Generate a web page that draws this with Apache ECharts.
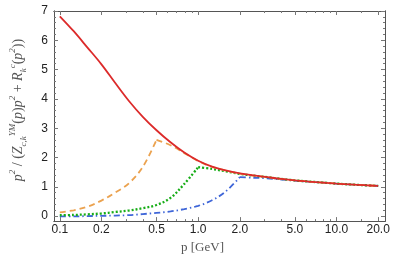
<!DOCTYPE html>
<html><head><meta charset="utf-8">
<script src="https://cdn.jsdelivr.net/npm/echarts@6/dist/echarts.min.js"></script>
<style>html,body{margin:0;padding:0;background:#fff}#c{width:394px;height:259px}</style>
</head><body><div id="c"></div>
<script>
// ---- data (p in GeV) ----
const pGrid = [0.1,0.126,0.158,0.2,0.251,0.316,0.398,0.5,0.631,0.794,1,1.26,1.58,2,2.51,3.16,3.98,5,6.31,7.94,10,12.6,15.8,20];
const redY    = [6.82,6.31,5.76,5.18,4.55,3.93,3.39,2.93,2.52,2.17,1.89,1.69,1.56,1.46,1.39,1.33,1.27,1.22,1.18,1.145,1.11,1.08,1.055,1.03];
const orangeY = [0.13,0.20,0.32,0.53,0.80,1.12,1.68,2.60,2.42,2.15,1.88,1.68,1.55,1.45,1.385,1.33,1.27,1.22,1.18,1.145,1.11,1.08,1.055,1.03];
const greenY  = [0.03,0.04,0.06,0.09,0.14,0.19,0.27,0.38,0.62,1.10,1.67,1.61,1.53,1.44,1.38,1.33,1.27,1.22,1.18,1.145,1.11,1.08,1.055,1.03];
const blueY   = [-0.01,-0.01,0.0,0.01,0.02,0.035,0.07,0.11,0.16,0.24,0.35,0.54,0.84,1.33,1.31,1.29,1.25,1.21,1.175,1.145,1.11,1.08,1.055,1.03];
const xTicks = [0.1,0.2,0.5,1,2,5,10,20];
const xMinorTicks = [0.3,0.4,0.6,0.7,0.8,0.9,3,4,6,7,8,9,15];
const yTicks = [0,1,2,3,4,5,6,7];
const yMinorTicks = [];
for (let i = 0; i <= 35; i++) { if (i % 5) yMinorTicks.push(i / 5); }

const L = v => Math.log10(v);
const XMIN = L(0.0908), XMAX = L(22.4), YMIN = -0.17, YMAX = 7;
const frame = '#555';

function split(p, y) {
  let k = 0;
  y.forEach((v, i) => { if (v > y[k]) k = i; });
  const pts = p.map((v, i) => [L(v), y[i]]);
  if (k === 0) return [pts];
  return [pts.slice(0, k + 1), pts.slice(k)];
}

function xAx(pos, ticks, len, labels) {
  return {
    type: 'value', position: pos, min: XMIN, max: XMAX, gridIndex: 0,
    axisLine: { show: true, onZero: false, lineStyle: { color: frame, width: 1 } },
    axisTick: { show: true, inside: true, length: len, customValues: ticks.map(L), lineStyle: { color: '#777' } },
    axisLabel: labels ? { show: true, customValues: ticks.map(L), formatter: v => Math.pow(10, v).toFixed(1),
      color: '#222', fontFamily: 'Liberation Sans', fontSize: 12, margin: 3 } : { show: false },
    splitLine: { show: false }
  };
}
function yAx(pos, ticks, len, labels) {
  return {
    type: 'value', position: pos, min: YMIN, max: YMAX, gridIndex: 0,
    axisLine: { show: true, onZero: false, lineStyle: { color: frame, width: 1 } },
    axisTick: { show: true, inside: true, length: len, customValues: ticks, lineStyle: { color: '#777' } },
    axisLabel: labels ? { show: true, customValues: ticks, color: '#222', fontFamily: 'Liberation Sans', fontSize: 12, margin: 6 } : { show: false },
    splitLine: { show: false }
  };
}

const xs = [xAx('bottom', xTicks, 4, true), xAx('bottom', xMinorTicks, 2, false), xAx('top', xTicks, 4, false), xAx('top', xMinorTicks, 2, false)];
xs[0].name = 'p [GeV]';
xs[0].nameLocation = 'middle';
xs[0].nameGap = 17;
xs[0].nameTextStyle = { fontFamily: 'Liberation Serif', fontSize: 13, color: '#555', padding: [0, 34, 0, 0] };

const ys = [yAx('left', yTicks, 4, true), yAx('left', yMinorTicks, 2, false), yAx('right', yTicks, 4, false), yAx('right', yMinorTicks, 2, false)];
ys[0].name = '{i|p}{sup|2}{n| / (}{i|Z}{sub|c,k}{sup|YM}{n|(}{i|p}{n|)}{i|p}{sup|2}{n| + }{i|R}{sub|k}{sup|c}{n|(}{i|p}{sup|2}{n|))}';
ys[0].nameLocation = 'middle';
ys[0].nameGap = 26;
ys[0].nameRotate = 90;
const nf = 'Liberation Serif', nc = '#555';
ys[0].nameTextStyle = {
  color: nc, fontFamily: nf, fontSize: 14, padding: [0, 0, 0, 12],
  rich: {
    i: { fontFamily: nf, fontStyle: 'italic', fontSize: 14, color: nc, lineHeight: 20 },
    n: { fontFamily: nf, fontSize: 14, color: nc, lineHeight: 20 },
    sup: { fontFamily: nf, fontStyle: 'italic', fontSize: 9, color: nc, verticalAlign: 'top', lineHeight: 20 },
    sub: { fontFamily: nf, fontStyle: 'italic', fontSize: 9, color: nc, verticalAlign: 'bottom', lineHeight: 20 }
  }
};

const series = [];
function add(y, color, type, width) {
  split(pGrid, y).forEach(seg => series.push({
    type: 'line', data: seg, xAxisIndex: 0, yAxisIndex: 0, showSymbol: false, symbol: 'none',
    smooth: 0.35, silent: true,
    lineStyle: { color, width, type }
  }));
}
add(blueY, '#3f66d8', [6, 3, 1.5, 3], 1.8);
add(greenY, '#17ad17', [2, 2], 2.3);
add(orangeY, '#eba24f', [6, 4], 1.8);
add(redY, '#dc2a2a', 'solid', 1.8);

const chart = echarts.init(document.getElementById('c'), null, { renderer: 'canvas' });
chart.setOption({
  animation: false,
  grid: { left: 42, right: 9, top: 11, bottom: 37, containLabel: false },
  xAxis: xs, yAxis: ys, series
});
</script></body></html>
